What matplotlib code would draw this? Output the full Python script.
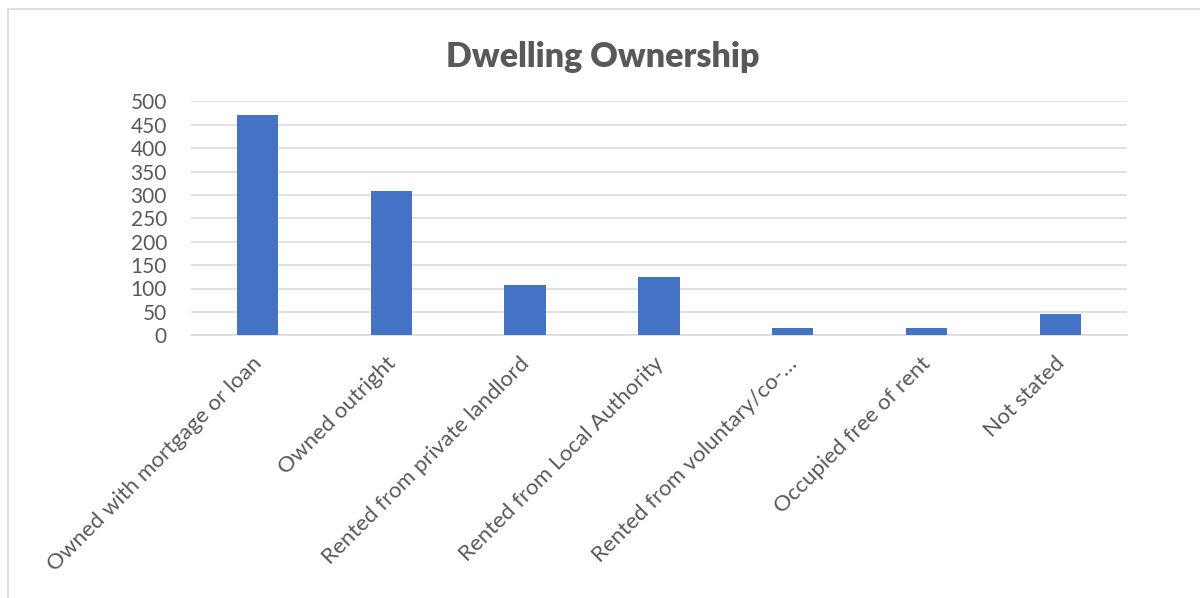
import matplotlib
matplotlib.use("Agg")
import matplotlib.pyplot as plt
import matplotlib.transforms as mtransforms
from matplotlib.patches import Rectangle

# chart data
categories = [
    "Owned with mortgage or loan",
    "Owned outright",
    "Rented from private landlord",
    "Rented from Local Authority",
    "Rented from voluntary/co-\u2026",
    "Occupied free of rent",
    "Not stated",
]
counts = [470, 309, 108, 124, 15, 15, 45]
y_ticks = [0, 50, 100, 150, 200, 250, 300, 350, 400, 450, 500]

text_grey = "#595959"
bar_blue = "#4472C4"
grid_grey = "#D9D9D9"

plt.rcParams["font.family"] = ["Lato", "DejaVu Sans"]

fig = plt.figure(figsize=(12, 5.98), dpi=100)

# outer chart frame (only top and left visible, rest cropped)
frame = Rectangle((8 / 1200, -0.1), 1.2, 1.1 - 9 / 598, transform=fig.transFigure,
                  fill=False, edgecolor=grid_grey, linewidth=1.2)
fig.patches.append(frame)

ax = fig.add_axes([190.6 / 1200, 1 - 335.3 / 598, 936.6 / 1200, 234 / 598])

x = list(range(len(categories)))
ax.bar(x, counts, width=0.31, color=bar_blue, zorder=3)

ax.set_xlim(-0.5, len(categories) - 0.5)
ax.set_ylim(0, 500)
ax.set_yticks(y_ticks)
ax.set_yticklabels([str(v) for v in y_ticks])
ax.yaxis.grid(True, color=grid_grey, linewidth=1.1, zorder=0)
ax.set_axisbelow(True)

for s in ["top", "right", "left"]:
    ax.spines[s].set_visible(False)
ax.spines["bottom"].set_color(grid_grey)
ax.spines["bottom"].set_linewidth(1.1)

ax.tick_params(axis="y", length=0, pad=17, labelsize=15, labelcolor=text_grey)
ax.tick_params(axis="x", length=0, pad=13, labelsize=16, labelcolor=text_grey)

ax.set_xticks(x)
ax.set_xticklabels(categories, rotation=45, ha="right", va="top",
                   rotation_mode="anchor")
shift = mtransforms.ScaledTranslation(-6 / 100, 0, fig.dpi_scale_trans)
for lbl in ax.get_xticklabels():
    lbl.set_transform(lbl.get_transform() + shift)

fig.text(0.502, 1 - 67 / 598, "Dwelling Ownership", ha="center", va="baseline",
         fontsize=24.5, fontweight="heavy", color=text_grey)

fig.savefig("out.png", dpi=100)
